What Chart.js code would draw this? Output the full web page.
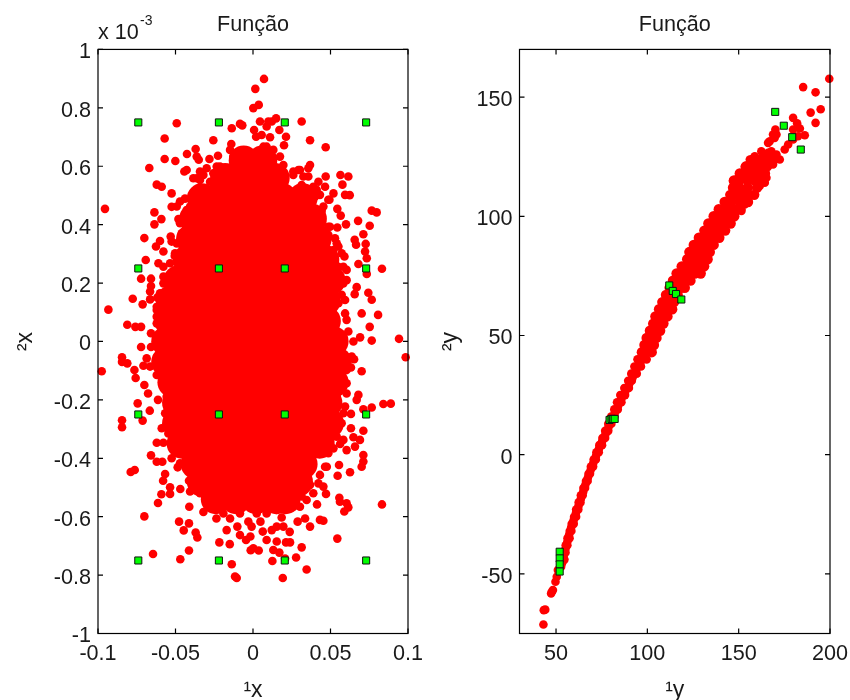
<!DOCTYPE html>
<html lang="en">
<head>
<meta charset="UTF-8">
<title>Função</title>
<script src="https://cdn.jsdelivr.net/npm/chart.js"></script>
<style>
    body { margin: 0; background: #fff; }
    canvas { position: absolute; top: 0; }
</style>
</head>
<body>
<canvas id="leftChart" width="425" height="700" style="left:0"></canvas>
<canvas id="rightChart" width="425" height="700" style="left:425px"></canvas>
<script>
// tick labels
const leftXTicks = [-0.1, -0.05, 0, 0.05, 0.1];
const leftYTicks = [-1, -0.8, -0.6, -0.4, -0.2, 0, 0.2, 0.4, 0.6, 0.8, 1];
const rightXTicks = [50, 100, 150, 200];
const rightYTicks = [-50, 0, 50, 100, 150];

// left panel: the design points (y in units of 10^-3)
const leftGreen = [
    [-0.074, 0.75], [-0.022, 0.75], [0.0205, 0.75], [0.073, 0.75],
    [-0.074, 0.25], [-0.022, 0.25], [0.0205, 0.25], [0.073, 0.25],
    [-0.074, -0.25], [-0.022, -0.25], [0.0205, -0.25], [0.073, -0.25],
    [-0.074, -0.75], [-0.022, -0.75], [0.0205, -0.75], [0.073, -0.75]
];

// left panel: single dots that can be told apart
const leftUpperDots = [
    [.0071,.899],[.0015,.865],[.0037,.810],[.0002,.799],[.0045,.753],[.0099,.753],[.0149,.764],[.0121,.753],
    [.0088,.736],[.0170,.724],[.0314,.753],[.0213,.701],[.0368,.689],[.0469,.665],[.0200,.672],[-.0492,.747],
    [-.0570,.695],[-.0137,.730],[-.0084,.745],[-.0069,.740],[.0007,.724],[.0020,.701],[.0056,.707],[.0110,.699],
    [-.0256,.689],[-.0370,.659],[-.0426,.642],[-.0350,.622],[-.0281,.625],[-.0226,.636],[-.0140,.676],[-.0041,.647],
    [-.0570,.625],[-.0501,.618],[-.0669,.594],[-.0443,.582],[-.0428,.587],[-.0299,.593],[-.0363,.633],[-.0385,.559],
    [-.0363,.559],[-.0621,.537],[-.0589,.530],[-.0525,.507],[-.0439,.489],[-.0471,.479],[-.0525,.461],[-.0492,.462],
    [-.0636,.442],[-.0591,.419],[-.0636,.401],[-.0481,.419],[-.0955,.454],[-.0701,.354],[-.0600,.344],[-.0626,.325],
    [-.0578,.308],[-.0692,.279],[-.0610,.268],[-.0531,.359],[-.0525,.342],[-.0505,.293],[-.0722,.215],[-.0658,.215],
    [-.0658,.190],[-.0664,.171],[-.0776,.146],[-.0712,.127],[-.0664,.144],[-.0617,.150],[-.0933,.109],[-.0811,.057],
    [-.0759,.050],[-.0722,.050],[-.0658,.028],[-.0722,-.019],[-.0658,-.019],
    [.0615,.565],[.0564,.570],[.0577,.537],[.0469,.565],[.0368,.604],[.0357,.593],[.0293,.587],[.0594,.502],
    [.0624,.501],[.0519,.507],[.0493,.485],[.0766,.448],[.0798,.442],[.0544,.454],[.0566,.431],[.0678,.413],
    [.0753,.396],[.0600,.401],[.0544,.390],[.0712,.367],[.0656,.348],[.0665,.331],[.0727,.334],[.0723,.308],
    [.0590,.291],[.0734,.285],[.0680,.265],[.0832,.249],[.0583,.256],[.0604,.245],[.0734,.231],[.0604,.210],
    [.0669,.186],[.0656,.162],[.0744,.167],[.0766,.143],[.0701,.096],[.0807,.091],[.0594,.096],[.0753,.050],
    [.0615,.034],[.0942,.009],[.0766,.003],[.0691,.014],[.0648,.000],[.0572,.160],[.0551,.131],
    [-.0148,.656],[-.0234,.599],[-.0342,.582],[-.0084,.633],[.0088,.667],[.0174,.633],[.0260,.582],[.0174,.576],
    [.0325,.565],[.0411,.519],[.0454,.462],[.0497,.393],[.0540,.336],[.0572,.302],[-.0342,.507],[-.0406,.462],
    [-.0471,.405],[-.0492,.336],[-.0535,.268],[-.0578,.222],[-.0600,.165],[-.0621,.108],[-.0621,.062],[.0583,.199],
    [.0594,.142],[.0604,.074]
];
const leftLowerDots = [
    [-.0976,-.102],[-.0845,-.054],[-.0845,-.070],[-.0811,-.075],[-.0765,-.098],[-.0757,-.125],[-.0707,-.083],[-.0701,-.149],
    [-.0677,-.178],[-.0613,-.200],[-.0744,-.212],[-.0666,-.237],[-.0712,-.271],[-.0845,-.270],[-.0845,-.294],[-.0589,-.297],
    [-.0621,-.347],[-.0578,-.347],[-.0546,-.315],[-.0658,-.390],[-.0621,-.412],[-.0585,-.412],[-.0525,-.400],[-.0789,-.447],
    [-.0763,-.440],[-.0567,-.454],[-.0580,-.477],[-.0486,-.431],[-.0413,-.442],[-.0413,-.477],[-.0535,-.499],[-.0535,-.522],
    [-.0469,-.505],[-.0591,-.523],[-.0613,-.553],[-.0406,-.514],[-.0411,-.566],[-.0320,-.584],[-.0701,-.599],[-.0477,-.617],
    [-.0413,-.623],[-.0447,-.647],[-.0370,-.654],[-.0359,-.671],[-.0236,-.606],[-.0170,-.646],[-.0217,-.688],[-.0150,-.694],
    [-.0645,-.728],[-.0413,-.716],[-.0469,-.746],[-.0137,-.763],[-.0116,-.805],[-.0105,-.810],[.0192,-.810],[.0346,-.781],
    [.0125,-.752],[-.0015,-.715],[.0037,-.716],[.0002,-.708],[-.0045,-.680],[-.0017,-.668],[-.0084,-.663],[-.0101,-.634],
    [-.0030,-.617],[-.0009,-.634],[.0048,-.617],[.0063,-.651],[.0088,-.680],[.0153,-.685],[.0131,-.714],[.0170,-.723],
    [.0207,-.743],[.0278,-.740],[.0314,-.705],[.0213,-.688],[.0239,-.688],[.0237,-.652],[.0196,-.634],[.0153,-.634],
    [.0121,-.646],[.0185,-.603],[.0368,-.634],[.0288,-.617],[.0336,-.606],[.0432,-.611],[.0454,-.614],[.0413,-.558],
    [.0544,-.675],[.0557,-.535],[.0561,-.549],[.0604,-.554],[.0615,-.568],[.0589,-.582],[.0471,-.522],[.0454,-.497],
    [.0832,-.558],[.0546,-.460],[.0626,-.448],[.0555,-.423],[.0701,-.429],[.0712,-.389],[.0712,-.411],[.0604,-.372],
    [.0519,-.366],[.0658,-.360],[.0690,-.337],[.0583,-.337],[.0562,-.351],[.0712,-.306],[.0632,-.297],[.0648,-.328],
    [.0632,-.248],[.0712,-.232],[.0766,-.226],[.0841,-.214],[.0889,-.213],[.0680,-.183],[.0669,-.200],[.0604,-.178],
    [.0701,-.102],[.0652,-.061],[.0632,-.089],[.0604,-.143],[.0985,-.054],[.0594,-.223],[.0497,-.337],[.0476,-.429],
    [.0432,-.457],[.0368,-.491],[.0314,-.531],[.0260,-.566]
];
// dots along the rim of the solid part
const leftFringe = [
    [-.0320,.570],[-.0256,.576],[-.0213,.599],[-.0148,.587],[-.0127,.633],[-.0105,.639],[-.0019,.604],[.0024,.644],
    [.0067,.667],[.0131,.656],[.0196,.604],[.0153,.576],[.0260,.570],[.0303,.587],[.0357,.565],[.0314,.536],
    [.0389,.530],[.0422,.547],[.0465,.530],[.0432,.502],[.0400,.496],[.0346,.496],[.0486,.485],[.0443,.448],
    [.0400,.445],[.0432,.405],[.0486,.393],[.0529,.353],[.0551,.325],[.0486,.365],[.0519,.313],[.0551,.256],
    [.0562,.199],[-.0342,.519],[-.0385,.484],[-.0428,.450],[-.0471,.416],[-.0460,.370],[-.0503,.302],[-.0578,.256],
    [-.0578,.199],[-.0621,.119],[-.0621,.085],[-.0342,.553],[-.0320,.502],[-.0256,.525],[-.0277,.547],
    [-.0686,-.058],[-.0664,-.086],[-.0621,-.115],[-.0578,-.155],[-.0546,-.143],[-.0557,-.189],[-.0567,-.246],
    [-.0514,-.337],[-.0471,-.372],[-.0471,-.417],[-.0417,-.440],[-.0363,-.480],[-.0342,-.520],[-.0299,-.486],[-.0299,-.543],
    [-.0234,-.554],[-.0191,-.589],[-.0148,-.606],[-.0084,-.589],[.0024,-.589],[.0088,-.589],[.0153,-.577],[.0217,-.566],
    [.0303,-.566],[.0346,-.543],[.0389,-.520],[.0422,-.486],[.0465,-.429],[.0486,-.383],[.0540,-.326],[.0572,-.280],
    [.0583,-.246],[.0540,-.189],[.0562,-.143],[.0604,-.098],[.0637,-.052]
];

// left panel: the part that is solid red, no single dots can be read there,
// so it is covered by a coarse set of big markers
const leftSolid = [
    [-.006,.62],[.006,.62],
    [-.018,.56],[-.005,.56],[.008,.56],[.014,.56],
    [-.033,.49],[-.02,.49],[-.007,.49],[.006,.49],[.019,.49],[.032,.49],
    [-.038,.42],[-.025,.42],[-.012,.42],[.001,.42],[.014,.42],[.027,.42],[.038,.42],
    [-.04,.35],[-.027,.35],[-.014,.35],[-.001,.35],[.012,.35],[.025,.35],[.038,.35],[.041,.35],
    [-.042,.28],[-.029,.28],[-.016,.28],[-.003,.28],[.01,.28],[.023,.28],[.036,.28],[.046,.28],
    [-.048,.21],[-.035,.21],[-.022,.21],[-.009,.21],[.004,.21],[.017,.21],[.03,.21],[.043,.21],[.05,.21],
    [-.053,.14],[-.04,.14],[-.027,.14],[-.014,.14],[-.001,.14],[.012,.14],[.025,.14],[.038,.14],[.047,.14],
    [-.054,.07],[-.041,.07],[-.028,.07],[-.015,.07],[-.002,.07],[.011,.07],[.024,.07],[.037,.07],[.047,.07],
    [-.056,0],[-.043,0],[-.03,0],[-.017,0],[-.004,0],[.009,0],[.022,0],[.035,0],[.048,0],[.052,0],
    [-.056,-.07],[-.043,-.07],[-.03,-.07],[-.017,-.07],[-.004,-.07],[.009,-.07],[.022,-.07],[.035,-.07],[.048,-.07],[.054,-.07],
    [-.052,-.14],[-.039,-.14],[-.026,-.14],[-.013,-.14],[0,-.14],[.013,-.14],[.026,-.14],[.039,-.14],[.052,-.14],
    [-.049,-.21],[-.036,-.21],[-.023,-.21],[-.01,-.21],[.003,-.21],[.016,-.21],[.029,-.21],[.042,-.21],[.048,-.21],
    [-.049,-.28],[-.036,-.28],[-.023,-.28],[-.01,-.28],[.003,-.28],[.016,-.28],[.029,-.28],[.042,-.28],[.049,-.28],
    [-.046,-.35],[-.033,-.35],[-.02,-.35],[-.007,-.35],[.006,-.35],[.019,-.35],[.032,-.35],[.043,-.35],
    [-.037,-.42],[-.024,-.42],[-.011,-.42],[.002,-.42],[.015,-.42],[.028,-.42],[.032,-.42],
    [-.033,-.48],[-.02,-.48],[-.007,-.48],[.006,-.48],[.019,-.48],[.029,-.48],
    [-.024,-.54],[-.011,-.54],[.002,-.54],[.015,-.54],[.021,-.54]
];

// right panel
const rightGreen = [
    [170,143.8],[174.7,138],[179.3,133.2],[184,128],
    [112,71],[113.9,68.7],[115.7,67.4],[118.6,65.1],
    [79.3,14.6],[80.4,15],[81.1,15],[82.1,15],
    [52,-40.7],[52,-43.5],[52,-46],[52,-49]
];
const rightEnds = [
    [199.6,157.7],[185.3,154.2],[192.1,152],[194.9,144.9],[189.4,143.5],[192.1,139.2],[179.8,141.3],[182,139],[183.5,136.8],[179.8,136.4],
    [170.1,136.4],[168.8,134.3],[167,131.5],[169.7,132.9],[166.1,130.8],[170.7,134.3],[186.2,134],[182.5,133.6],[179.8,132.2],[177.1,130.1],
    [175.2,128],[172.5,123.8],[168.8,121.7],[167.9,124.5],[170.7,125.9],[162.4,127.3],[166.1,126.6],[167.9,127.3],[158.8,125.2],[156.1,123.8],
    [153.3,120.8],[160.6,123.1],[163.4,124.5],[165.2,116.2],[164.3,114.1],[161.5,112.7],[158.8,109.2],[156.1,108.5],[153.3,105],[151.5,102.2],
    [146.9,114.8],[149.7,116.2],[153.3,117.6],[157,120.4],
    [43.1,-71.2],[44.1,-65],[43.3,-65.2],[47.7,-57.5],[47.3,-58.2],[48.3,-56.8],[49.7,-53.3],[50.4,-51.2],[51,-48.4],[54.6,-44]
];
const rightLowerBand = [
    [52.3,-47],[52.8,-47],[53.3,-44],[54.2,-44],[54.2,-41],[55.2,-41],[55.3,-38],[56.2,-38],[56.3,-35],[57.4,-35],
    [57.5,-32],[58.4,-32],[58.6,-29],[59.7,-29],[59.9,-26],[61,-26],[61,-23],[62.2,-23],[62.4,-20],[63.4,-20],
    [63.6,-17],[64.6,-17],[65,-14],[65.9,-14],[66.4,-11],[67.3,-11],[67.8,-8],[68.6,-8],[69.1,-5],[70.3,-5],
    [70.6,-2],[71.8,-2],[72.1,1],[73.4,1],[73.7,4],[75.2,4],[75.4,7],[76.9,7],[76.9,10],[78.6,10],
    [78.6,13],[80.3,13],[80.2,16],[82,16],[81.9,19],[83.8,19],[83.4,22],[85.8,22],[85.2,25],[87.8,25],
    [87.4,28],[89.9,28],[89.5,31],[91.5,31],[91.2,34],[94.2,34],[92.9,37],[96.5,37],[94.6,40],[97.2,40],[99.6,40],
    [53.3,-45.5],[54.2,-42.5],[55.2,-39.5],[56.2,-36.5],[57.2,-33.5],[58.3,-30.5],[59.6,-27.5],[60.9,-24.5],[62.3,-21.5],
    [63.6,-18.5],[64.9,-15.5],[66.1,-12.5],[67.5,-9.5],[68.9,-6.5],[70.4,-3.5],[71.9,-.5],[73.5,2.5],[75.2,5.5],[77,8.5],
    [78.7,11.5],[80.4,14.5],[82.2,17.5],[84,20.5],[85.8,23.5],[87.9,26.5],[90,29.5],[92,32.5],[93.9,35.5],[96.2,38.5],[98.6,41.5]
];
const rightUpperBand = [
    [97,43],[99.6,43],[102.4,43],[98.4,46],[100.8,46],[103.6,46],[99.6,49],[102,49],[105,49],
    [101.4,52],[104,52],[107,52],[103.2,55],[105.8,55],[108.8,55],[104.4,58],[107,58],[111,58],
    [106.4,61],[109.5,61],[113.6,61],[108.2,64],[111,64],[114.6,64],[110.2,67],[113,67],[116.6,67],
    [112.2,70],[115,70],[118.5,70],[120.5,70],[114,73],[117,73],[120.5,73],[123.6,73],
    [116,76],[119,76],[122.5,76],[126,76],[129.2,76],[118.8,79],[122,79],[125.6,79],[129,79],[131.1,79],
    [121.8,82],[125,82],[128.6,82],[132,82],[133,82],[123,85],[126,85],[130,85],[134.2,85],
    [125.4,88],[128.6,88],[132.5,88],[136.3,88],[128.2,91],[131.5,91],[135.5,91],[139.4,91],
    [131.2,94],[134.5,94],[138.5,94],[142.6,94],[133.4,97],[137,97],[141,97],[145.6,97],
    [136.3,100],[139.5,100],[144,100],[147.6,100],[139.1,103],[142.5,103],[147,103],[151,103],
    [142.3,106],[146,106],[150.5,106],[155.1,106],[145.4,109],[149,109],[153,109],[158.5,109],
    [146.9,112],[150.5,112],[155,112],[160.1,112],[147.4,115],[150.5,115],[155,115],[159,115],[163.5,115],
    [150.6,118],[154,118],[158,118],[162,118],[164.4,118],[154.1,121],[157.5,121],[161.5,121],[165.6,121],
    [158,124],[162,124],[166,124],[169.6,124]
];

const textColor = '#1a1a1a';
Chart.defaults.font.family = '"Liberation Sans", Arial, sans-serif';
Chart.defaults.font.size = 21.6;
Chart.defaults.color = textColor;

const toPoints = pairs => pairs.map(p => ({ x: p[0], y: p[1] }));

// frame with short ticks pointing inwards, like the original figure
const framePlugin = {
    id: 'frame',
    afterDatasetsDraw(chart) {
        const { ctx, chartArea: a, scales } = chart;
        ctx.save();
        ctx.strokeStyle = '#000';
        ctx.lineWidth = 1.2;
        ctx.beginPath();
        scales.x.ticks.forEach(t => {
            const px = scales.x.getPixelForValue(t.value);
            ctx.moveTo(px, a.top); ctx.lineTo(px, a.top + 5);
            ctx.moveTo(px, a.bottom); ctx.lineTo(px, a.bottom - 5);
        });
        scales.y.ticks.forEach(t => {
            const py = scales.y.getPixelForValue(t.value);
            ctx.moveTo(a.left, py); ctx.lineTo(a.left + 5, py);
            ctx.moveTo(a.right, py); ctx.lineTo(a.right - 5, py);
        });
        ctx.stroke();
        ctx.strokeRect(a.left, a.top, a.right - a.left, a.bottom - a.top);
        ctx.restore();
    }
};

// the "x 10^-3" multiplier above the left y axis
const exponentPlugin = {
    id: 'exponent',
    afterDraw(chart) {
        const { ctx } = chart;
        ctx.save();
        ctx.fillStyle = textColor;
        ctx.textBaseline = 'alphabetic';
        ctx.font = '21.6px "Liberation Sans"';
        ctx.fillText('x 10', 98, 39);
        ctx.font = '14px "Liberation Sans"';
        ctx.fillText('-3', 140, 25);
        ctx.restore();
    }
};

function makeAxis(min, max, ticks, label, size, tickPadding, titlePadding, labelOffset) {
    return {
        type: 'linear',
        min: min,
        max: max,
        grid: { display: false, drawTicks: false },
        border: { display: false },
        ticks: { autoSkip: false, maxRotation: 0, minRotation: 0, padding: tickPadding, labelOffset: labelOffset, callback: v => String(v) },
        title: { display: true, text: label, padding: titlePadding, font: { size: 23 } },
        afterBuildTicks: s => { s.ticks = ticks.map(v => ({ value: v })); },
        afterFit: s => {
            if (s.isHorizontal()) s.height = size; else s.width = size;
            // long end labels must not push the plot area in
            s.paddingLeft = s.paddingRight = s.paddingTop = s.paddingBottom = 0;
        }
    };
}

const redSet = (points, radius) => ({
    data: toPoints(points),
    backgroundColor: '#ff0000',
    borderWidth: 0,
    pointRadius: radius,
    pointHoverRadius: radius,
    clip: false,
    order: 2
});
const greenSet = points => ({
    data: toPoints(points),
    pointStyle: 'rect',
    backgroundColor: '#00ff00',
    borderColor: '#111',
    borderWidth: 1,
    pointRadius: 5,
    clip: false,
    order: 1
});

function makeChart(id, datasets, xAxis, yAxis, rightPad, plugins) {
    return new Chart(document.getElementById(id), {
        type: 'scatter',
        data: { datasets: datasets },
        options: {
            responsive: false,
            animation: false,
            events: [],
            layout: { autoPadding: false, padding: { top: 0, right: rightPad, left: 0, bottom: 0 } },
            plugins: {
                legend: { display: false },
                tooltip: { enabled: false },
                title: { display: true, text: 'Função', fullSize: false, font: { weight: 'normal', size: 21.6 }, padding: { top: 12, bottom: 11.5 } }
            },
            scales: { x: xAxis, y: yAxis }
        },
        plugins: plugins
    });
}

makeChart('leftChart',
    [greenSet(leftGreen), redSet(leftUpperDots, 4.3), redSet(leftLowerDots, 4.3), redSet(leftFringe, 4.3), redSet(leftSolid, 15)],
    makeAxis(-0.1, 0.1, leftXTicks, '¹x', 66.5, 8, { top: 0, bottom: -4 }, 0),
    makeAxis(-1, 1, leftYTicks, '²x', 98, 7, { top: 12, bottom: 0 }, 3),
    17, [framePlugin, exponentPlugin]);

makeChart('rightChart',
    [greenSet(rightGreen), redSet(rightEnds, 4.3), redSet(rightLowerBand, 4.3), redSet(rightUpperBand, 5.2)],
    makeAxis(30, 200, rightXTicks, '¹y', 66.5, 8, { top: 0, bottom: -4 }, 0),
    makeAxis(-75, 170, rightYTicks, '²y', 94.5, 7, { top: 12, bottom: 0 }, 3),
    20, [framePlugin]);
</script>
</body>
</html>
